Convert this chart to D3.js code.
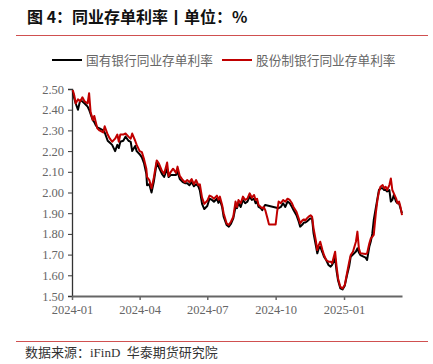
<!DOCTYPE html>
<html><head><meta charset="utf-8">
<script src="https://cdn.jsdelivr.net/npm/d3@7/dist/d3.min.js"></script>
<style>
body{margin:0;background:#fff;}
svg{display:block;}
</style></head>
<body>
<script>
const dates = ["2024-01-02","2024-01-04","2024-01-06","2024-01-09","2024-01-12","2024-01-15","2024-01-18","2024-01-22","2024-01-24","2024-01-26","2024-01-29","2024-01-31","2024-02-02","2024-02-04","2024-02-07","2024-02-12","2024-02-14","2024-02-18","2024-02-21","2024-02-24","2024-02-28","2024-03-02","2024-03-04","2024-03-06","2024-03-10","2024-03-13","2024-03-17","2024-03-20","2024-03-22","2024-03-26","2024-03-28","2024-04-01","2024-04-04","2024-04-07","2024-04-10","2024-04-11","2024-04-14","2024-04-17","2024-04-20","2024-04-24","2024-04-27","2024-05-01","2024-05-04","2024-05-08","2024-05-10","2024-05-13","2024-05-16","2024-05-20","2024-05-22","2024-05-25","2024-05-29","2024-06-01","2024-06-04","2024-06-07","2024-06-10","2024-06-13","2024-06-16","2024-06-19","2024-06-21","2024-06-24","2024-06-27","2024-07-01","2024-07-04","2024-07-07","2024-07-10","2024-07-14","2024-07-16","2024-07-18","2024-07-21","2024-07-23","2024-07-27","2024-07-30","2024-08-02","2024-08-05","2024-08-08","2024-08-10","2024-08-12","2024-08-15","2024-08-18","2024-08-21","2024-08-24","2024-08-27","2024-08-30","2024-09-02","2024-09-04","2024-09-06","2024-09-08","2024-09-11","2024-09-13","2024-09-15","2024-09-17","2024-09-20","2024-09-22","2024-09-26","2024-10-01","2024-10-03","2024-10-05","2024-10-08","2024-10-11","2024-10-14","2024-10-17","2024-10-20","2024-10-23","2024-10-25","2024-10-29","2024-11-01","2024-11-03","2024-11-06","2024-11-08","2024-11-10","2024-11-12","2024-11-15","2024-11-17","2024-11-19","2024-11-21","2024-11-24","2024-11-26","2024-11-28","2024-11-30","2024-12-03","2024-12-05","2024-12-08","2024-12-11","2024-12-14","2024-12-16","2024-12-20","2024-12-22","2024-12-24","2024-12-27","2024-12-30","2025-01-02","2025-01-05","2025-01-08","2025-01-10","2025-01-13","2025-01-17","2025-01-19","2025-01-21","2025-01-23","2025-01-30","2025-02-01","2025-02-04","2025-02-06","2025-02-08","2025-02-10","2025-02-13","2025-02-15","2025-02-17","2025-02-19","2025-02-22","2025-02-24","2025-02-26","2025-02-28","2025-03-03","2025-03-05","2025-03-07","2025-03-09","2025-03-12","2025-03-14","2025-03-16","2025-03-18","2025-03-20"];

// 股份制银行同业存单利率
const jointStock = [2.495,2.47,2.43,2.45,2.44,2.46,2.44,2.43,2.48,2.39,2.35,2.37,2.34,2.31,2.30,2.29,2.32,2.28,2.26,2.245,2.26,2.28,2.245,2.28,2.28,2.285,2.27,2.26,2.285,2.25,2.23,2.20,2.195,2.16,2.115,2.075,2.06,2.02,2.07,2.155,2.14,2.105,2.09,2.145,2.08,2.10,2.115,2.095,2.125,2.08,2.06,2.05,2.06,2.05,2.065,2.04,2.06,2.035,2.04,1.975,1.945,1.96,1.985,1.98,1.97,1.985,1.965,1.98,1.94,1.90,1.851,1.843,1.86,1.883,1.956,1.93,1.964,1.948,1.98,1.964,1.97,1.996,1.975,1.988,1.964,1.97,1.94,1.93,1.924,1.93,1.915,1.875,1.846,1.846,1.846,1.907,1.956,1.948,1.964,1.956,1.97,1.964,1.948,1.93,1.907,1.875,1.851,1.865,1.87,1.865,1.875,1.885,1.89,1.883,1.827,1.77,1.722,1.746,1.762,1.722,1.698,1.674,1.666,1.666,1.658,1.714,1.642,1.585,1.545,1.537,1.553,1.61,1.666,1.698,1.714,1.762,1.811,1.73,1.706,1.703,1.706,1.754,1.778,1.786,1.795,1.907,1.964,2.004,2.028,2.036,2.02,2.028,2.012,2.036,2.068,2.012,1.996,1.972,1.948,1.956,1.93,1.891];

// 国有银行同业存单利率 (null = no quote)
const stateOwned = [2.49,2.455,2.43,2.40,2.445,2.44,2.43,2.415,2.40,2.38,2.35,2.34,2.325,2.315,2.31,2.30,2.29,2.25,2.24,2.23,2.20,2.23,2.215,2.245,2.25,2.27,2.25,2.245,2.20,2.225,2.20,2.185,2.17,2.14,2.09,2.035,2.04,2.00,2.05,2.145,2.12,2.09,2.075,2.115,2.075,2.085,2.085,2.085,2.10,2.065,2.05,2.045,2.045,2.035,2.05,2.03,2.04,2.03,2.01,1.945,1.92,1.935,1.97,1.965,1.955,1.97,1.95,1.964,1.93,1.883,1.843,1.835,1.85,1.875,1.93,1.924,1.948,1.93,1.964,1.948,1.956,1.98,1.964,1.97,1.948,1.956,1.93,1.924,1.915,1.93,1.94,null,null,null,null,null,1.924,1.93,1.948,1.93,1.956,1.948,1.93,1.915,1.89,1.86,1.835,1.845,1.855,1.855,1.86,1.87,1.875,1.875,1.803,1.746,1.706,1.73,1.738,1.71,1.69,1.674,1.65,1.642,1.65,1.682,1.62,1.575,1.537,1.532,1.55,1.60,1.645,1.69,1.70,1.715,1.73,1.71,1.698,1.685,1.674,1.738,1.763,1.80,1.867,1.93,1.972,2.012,2.02,2.02,2.012,2.012,2.005,2.012,1.956,1.964,1.988,1.956,1.948,1.948,1.923,1.90];

const yTicks = [1.50,1.60,1.70,1.80,1.90,2.00,2.10,2.20,2.30,2.40,2.50];
const seriesNames = ["国有银行同业存单利率","股份制银行同业存单利率"];
const seriesColors = ["#000000","#c00000"];

const W = 433, H = 364;
const svg = d3.select("body").append("svg").attr("width", W).attr("height", H);
const parse = d3.timeParse("%Y-%m-%d");
const dd = dates.map(parse);

const x = d3.scaleTime()
  .domain([d3.timeMonth.floor(dd[0]), dd[dd.length-1]])
  .range([72, 402]);
const y = d3.scaleLinear().domain([1.5, 2.5]).range([296, 89]);

// Title
svg.append("text").attr("x", 27).attr("y", 23)
  .attr("font-family", "'Noto Sans CJK SC', sans-serif").attr("font-weight", "bold")
  .attr("font-size", 16).attr("fill", "#111")
  .text("图 4：同业存单利率丨单位：%");
svg.append("line").attr("x1", 16).attr("x2", 428).attr("y1", 35.5).attr("y2", 35.5)
  .attr("stroke", "#d05050").attr("stroke-width", 1.2);

// Legend
const lg = svg.append("g").attr("font-family", "'Noto Sans CJK SC', sans-serif").attr("font-size", 12.7).attr("fill", "#666");
const legX = [52, 222];
seriesNames.forEach((n, i) => {
  lg.append("line").attr("x1", legX[i]).attr("x2", legX[i] + 30).attr("y1", 60).attr("y2", 60)
    .attr("stroke", seriesColors[i]).attr("stroke-width", 2);
  lg.append("text").attr("x", legX[i] + 34).attr("y", 64.5).text(n);
});

// Axes
const yAxis = svg.append("g").attr("transform", "translate(72,0)")
  .call(d3.axisLeft(y).tickValues(yTicks).tickFormat(d3.format(".2f")).tickSize(4).tickPadding(4));
yAxis.select(".domain").attr("stroke", "#333").attr("stroke-width", 1.3);
yAxis.selectAll(".tick line").attr("stroke", "#333");
yAxis.selectAll("text").attr("font-family", "'Liberation Serif', serif").attr("font-size", 12.5).attr("fill", "#666");

const xAxis = svg.append("g").attr("transform", "translate(0,296)")
  .call(d3.axisBottom(x).ticks(d3.timeMonth.every(3)).tickFormat(d3.timeFormat("%Y-%m")).tickSize(4).tickPadding(5).tickSizeOuter(0));
xAxis.select(".domain").attr("stroke", "#666").attr("stroke-width", 2);
xAxis.selectAll(".tick line").attr("stroke", "#666").attr("stroke-width", 1.5);
xAxis.selectAll("text").attr("font-family", "'Liberation Serif', serif").attr("font-size", 12.5).attr("fill", "#666");

// Lines
const line = d3.line().x(d => x(d.date)).y(d => y(d.v));
const mk = arr => arr.map((v, i) => ({date: dd[i], v})).filter(d => d.v != null);
[stateOwned, jointStock].forEach((arr, i) => {
  svg.append("path").datum(mk(arr)).attr("d", line)
    .attr("fill", "none").attr("stroke", seriesColors[i]).attr("stroke-width", 2)
    .attr("stroke-linejoin", "round");
});

// Footer
svg.append("line").attr("x1", 16).attr("x2", 428).attr("y1", 341.5).attr("y2", 341.5)
  .attr("stroke", "#d05050").attr("stroke-width", 1.2);
svg.append("text").attr("x", 25).attr("y", 357)
  .attr("font-family", "'Liberation Serif', 'Noto Sans CJK SC', serif").attr("font-size", 13).attr("fill", "#333")
  .attr("xml:space", "preserve").style("white-space", "pre")
  .text("数据来源：iFinD  华泰期货研究院");
</script>
</body></html>
